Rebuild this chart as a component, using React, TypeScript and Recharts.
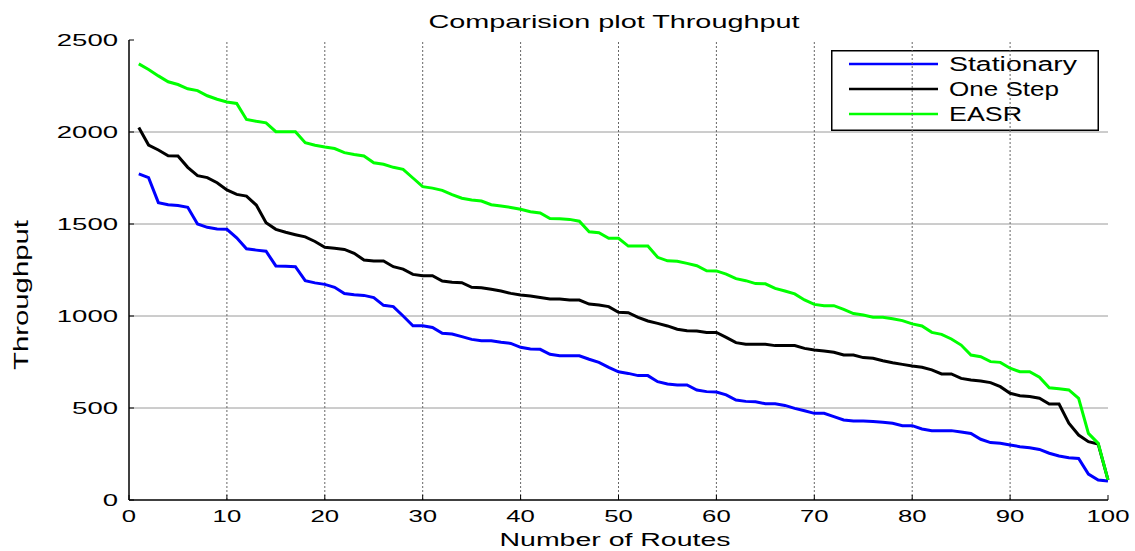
import { LineChart, Line, XAxis, YAxis, ReferenceLine } from "recharts";

const FONT = "'Liberation Sans', Arial, Helvetica, sans-serif";

const routes = [
  1, 2, 3, 4, 5, 6, 7, 8, 9, 10, 11, 12, 13, 14, 15, 16, 17, 18, 19, 20,
  21, 22, 23, 24, 25, 26, 27, 28, 29, 30, 31, 32, 33, 34, 35, 36, 37, 38, 39, 40,
  41, 42, 43, 44, 45, 46, 47, 48, 49, 50, 51, 52, 53, 54, 55, 56, 57, 58, 59, 60,
  61, 62, 63, 64, 65, 66, 67, 68, 69, 70, 71, 72, 73, 74, 75, 76, 77, 78, 79, 80,
  81, 82, 83, 84, 85, 86, 87, 88, 89, 90, 91, 92, 93, 94, 95, 96, 97, 98, 99, 100,
];

const stationary = [
  1772, 1752, 1616, 1605, 1600, 1591, 1500, 1482, 1473, 1471,
  1425, 1365, 1358, 1352, 1272, 1270, 1268, 1192, 1180, 1172,
  1156, 1122, 1116, 1112, 1100, 1058, 1051, 1000, 947, 947,
  938, 906, 902, 888, 873, 866, 866, 857, 851, 830,
  821, 819, 792, 784, 784, 784, 765, 748, 721, 697,
  688, 676, 676, 643, 630, 625, 625, 598, 589, 587,
  571, 543, 536, 534, 523, 523, 514, 498, 485, 471,
  471, 453, 435, 429, 429, 426, 422, 417, 404, 404,
  386, 377, 377, 377, 370, 362, 330, 312, 308, 299,
  290, 284, 275, 254, 239, 230, 226, 141, 109, 103,
];

const oneStep = [
  2025, 1929, 1902, 1871, 1870, 1808, 1763, 1752, 1724, 1685,
  1661, 1652, 1603, 1507, 1471, 1455, 1442, 1430, 1405, 1373,
  1368, 1362, 1341, 1304, 1299, 1299, 1268, 1255, 1226, 1219,
  1219, 1190, 1183, 1181, 1156, 1154, 1145, 1136, 1123, 1114,
  1109, 1101, 1092, 1092, 1087, 1087, 1065, 1060, 1051, 1020,
  1018, 993, 973, 960, 946, 928, 920, 918, 911, 911,
  884, 855, 846, 846, 846, 839, 839, 839, 824, 815,
  810, 803, 788, 788, 774, 770, 757, 746, 737, 728,
  721, 707, 685, 685, 661, 652, 647, 638, 616, 580,
  567, 562, 553, 522, 522, 417, 353, 317, 304, 109,
];

const easr = [
  2370, 2340, 2305, 2273, 2258, 2235, 2225, 2197, 2178, 2163,
  2155, 2068, 2058, 2050, 2002, 2002, 2002, 1942, 1928, 1918,
  1910, 1888, 1878, 1870, 1833, 1825, 1808, 1797, 1750, 1703,
  1695, 1683, 1660, 1640, 1630, 1625, 1605, 1598, 1590, 1580,
  1567, 1560, 1530, 1528, 1525, 1515, 1458, 1453, 1422, 1422,
  1380, 1380, 1380, 1319, 1300, 1298, 1286, 1273, 1246, 1245,
  1228, 1203, 1192, 1176, 1175, 1150, 1136, 1120, 1087, 1063,
  1056, 1056, 1036, 1013, 1005, 993, 993, 985, 975, 957,
  946, 911, 900, 875, 842, 788, 779, 752, 748, 716,
  697, 697, 667, 610, 605, 598, 553, 362, 308, 109,
];

const xTicks = [0, 10, 20, 30, 40, 50, 60, 70, 80, 90, 100];
const yTicks = [0, 500, 1000, 1500, 2000, 2500];

const seriesNames = ["Stationary", "One Step", "EASR"];
const seriesColors = ["#0000ff", "#000000", "#00ff00"];

const data = routes.map((r, i) => ({
  route: r,
  stationary: stationary[i],
  oneStep: oneStep[i],
  easr: easr[i],
}));

function XTick({ x, y, payload }: any) {
  const s = String(payload.value);
  return (
    <text x={x} y={y} dy={13} textAnchor="middle" fontSize={17} fontFamily={FONT} fill="#000"
      textLength={s.length * 14.3} lengthAdjust="spacingAndGlyphs">
      {s}
    </text>
  );
}

function YTick({ x, y, payload }: any) {
  const s = String(payload.value);
  return (
    <text x={x} y={y} dy={6} textAnchor="end" fontSize={16} fontFamily={FONT} fill="#000"
      textLength={s.length * 15.3} lengthAdjust="spacingAndGlyphs">
      {s}
    </text>
  );
}

// legend box drawn in chart coordinates, like matlab's northeast legend
function LegendBox() {
  return (
    <g transform="translate(831,50)">
      <rect x={0.75} y={0.75} width={266.5} height={79.5} fill="#fff" stroke="#000" strokeWidth={1.5} />
      {seriesNames.map((name, i) => (
        <g key={name}>
          <line x1={18} x2={107} y1={14 + i * 25} y2={14 + i * 25} stroke={seriesColors[i]} strokeWidth={2.5} />
          <text x={118} y={14 + i * 25} dy={7} fontSize={20} fontFamily={FONT} fill="#000"
            textLength={[128, 110, 73][i]} lengthAdjust="spacingAndGlyphs">
            {name}
          </text>
        </g>
      ))}
    </g>
  );
}

export default function App() {
  return (
    <div style={{ position: "absolute", left: 0, top: 0, background: "#fff" }}>
      <LineChart width={1135} height={551} data={data} margin={{ top: 40, right: 27, bottom: 0, left: 0 }}
        style={{ fontFamily: FONT }}>
        {yTicks.slice(1, -1).map((t) => (
          <ReferenceLine key={"h" + t} xAxisId="b" yAxisId="l" y={t} stroke="#9a9a9a" />
        ))}
        {xTicks.slice(1, -1).map((t) => (
          <ReferenceLine key={"v" + t} xAxisId="b" yAxisId="l" x={t} stroke="#666" strokeDasharray="2 2" />
        ))}
        <XAxis xAxisId="b" dataKey="route" type="number" domain={[0, 100]} ticks={xTicks} height={51}
          axisLine={{ stroke: "#000", strokeWidth: 1.5 }} tickLine={{ stroke: "#000" }} tickSize={-5} tickMargin={14}
          tick={<XTick />} interval={0} />
        <XAxis xAxisId="t" orientation="top" dataKey="route" type="number" domain={[0, 100]} ticks={xTicks} height={0}
          axisLine={{ stroke: "#000", strokeWidth: 1.5 }} tickLine={{ stroke: "#000" }} tickSize={-5} tick={false} />
        <YAxis yAxisId="l" type="number" domain={[0, 2500]} ticks={yTicks} width={129}
          axisLine={{ stroke: "#000", strokeWidth: 1.5 }} tickLine={{ stroke: "#000" }} tickSize={-5} tickMargin={16}
          tick={<YTick />} interval={0} />
        <YAxis yAxisId="r" orientation="right" type="number" domain={[0, 2500]} ticks={yTicks} width={0}
          axisLine={{ stroke: "#000", strokeWidth: 1.5 }} tickLine={{ stroke: "#000" }} tickSize={-5} tick={false} />
        <Line xAxisId="b" yAxisId="l" type="linear" dataKey="stationary" name="Stationary" stroke={seriesColors[0]}
          strokeWidth={3} dot={false} isAnimationActive={false} />
        <Line xAxisId="b" yAxisId="l" type="linear" dataKey="oneStep" name="One Step" stroke={seriesColors[1]}
          strokeWidth={3} dot={false} isAnimationActive={false} />
        <Line xAxisId="b" yAxisId="l" type="linear" dataKey="easr" name="EASR" stroke={seriesColors[2]}
          strokeWidth={3} dot={false} isAnimationActive={false} />
        <LegendBox />
        <text x={614} y={28} textAnchor="middle" fontSize={19} fontFamily={FONT} fill="#000"
          textLength={371} lengthAdjust="spacingAndGlyphs">
          Comparision plot Throughput
        </text>
        <text x={615} y={546} textAnchor="middle" fontSize={18} fontFamily={FONT} fill="#000"
          textLength={231} lengthAdjust="spacingAndGlyphs">
          Number of Routes
        </text>
        <text x={0} y={0} transform="translate(28,295) rotate(-90)" textAnchor="middle" fontSize={20}
          fontFamily={FONT} fill="#000" textLength={150} lengthAdjust="spacingAndGlyphs">
          Throughput
        </text>
      </LineChart>
    </div>
  );
}
